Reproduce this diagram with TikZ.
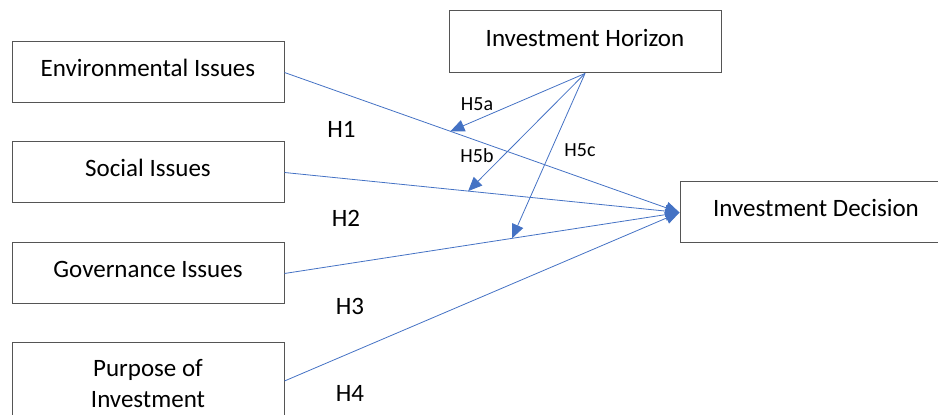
\documentclass[tikz,border=0pt]{standalone}
\usepackage{fontspec}
\setmainfont{Carlito}
\usepackage{tikz}
\usetikzlibrary{arrows.meta, calc}
\definecolor{linkblue}{RGB}{68,114,196}
\definecolor{boxgray}{RGB}{85,85,85}

\begin{document}
\begin{tikzpicture}[x=1pt, y=1pt,
    varbox/.style={draw=boxgray, line width=1pt, minimum width=272pt, minimum height=61pt,
        inner sep=0pt, align=center, font=\fontsize{25}{31}\selectfont},
    onerow/.style={varbox, text height=17pt, text depth=8pt},
    link/.style={linkblue, line width=0.8pt, -{Triangle[length=14pt, width=12pt]}},
    hlabel/.style={font=\fontsize{25}{30}\selectfont},
    slabel/.style={font=\fontsize{20}{24}\selectfont}]
    \useasboundingbox (0,0) rectangle (938,415);

    % Variables
    \node[onerow] (env) at (148,342.5) {Environmental Issues};
    \node[onerow] (soc) at (148,242.5) {Social Issues};
    \node[onerow] (gov) at (148,141.5) {Governance Issues};
    \node[varbox, minimum height=83pt, anchor=north] (pur) at (148,73) {Purpose of\\Investment};
    \node[onerow, minimum height=62pt] (hor) at (585,373) {Investment Horizon};
    \node[onerow] (dec) at (816,202.5) {Investment Decision};

    % Direct effects H1--H4
    \foreach \v in {env,soc,gov} {
        \draw[link] (\v.east) -- (dec.west);
    }
    \draw[link] ([yshift=3pt]pur.east) -- (dec.west);

    % Moderation H5a--H5c
    \draw[link] (hor.south) -- ($(env.east)!0.42!(dec.west)$);
    \draw[link] (hor.south) -- ($(soc.east)!0.465!(dec.west)$);
    \draw[link] (hor.south) -- ($(gov.east)!0.576!(dec.west)$);

    % Labels
    \node[hlabel] (h1) at (341.5,286) {H1};
    \node[hlabel] (h2) at (346,197) {H2};
    \node[hlabel] (h3) at (350,109) {H3};
    \node[hlabel] (h4) at (350,22) {H4};
    \node[slabel] (h5a) at (477,311) {H5a};
    \node[slabel] (h5b) at (477,259) {H5b};
    \node[slabel] (h5c) at (580,265) {H5c};
\end{tikzpicture}
\end{document}
